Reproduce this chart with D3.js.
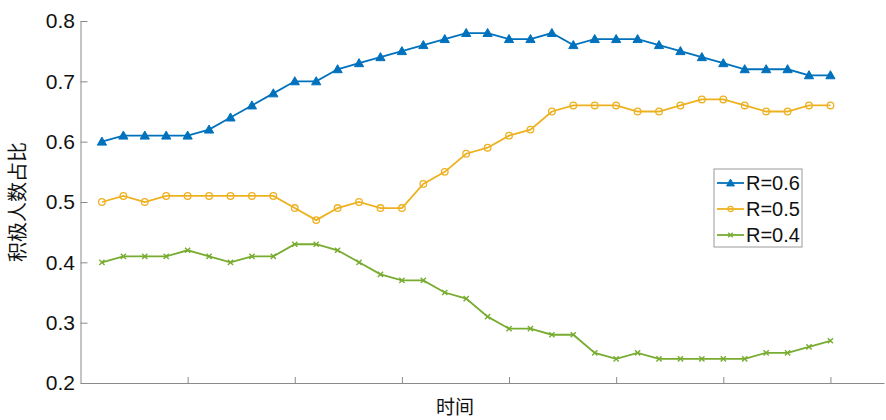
<!DOCTYPE html>
<html>
<head>
<meta charset="utf-8">
<script src="https://cdn.jsdelivr.net/npm/d3@7"></script>
<style>
  html, body { margin: 0; padding: 0; background: #fff; }
  svg { display: block; }
  text { font-family: "Liberation Sans", Arial, sans-serif; fill: #111; }
  .cjk { font-family: "Noto Sans CJK SC", sans-serif; }
</style>
</head>
<body>
<svg id="chart" width="886" height="420"></svg>
<script>
// Time steps 1..35
const steps = d3.range(1, 36);
const r06 = [0.60,0.61,0.61,0.61,0.61,0.62,0.64,0.66,0.68,0.70,0.70,0.72,0.73,0.74,0.75,0.76,0.77,0.78,0.78,0.77,0.77,0.78,0.76,0.77,0.77,0.77,0.76,0.75,0.74,0.73,0.72,0.72,0.72,0.71,0.71];
const r05 = [0.50,0.51,0.50,0.51,0.51,0.51,0.51,0.51,0.51,0.49,0.47,0.49,0.50,0.49,0.49,0.53,0.55,0.58,0.59,0.61,0.62,0.65,0.66,0.66,0.66,0.65,0.65,0.66,0.67,0.67,0.66,0.65,0.65,0.66,0.66];
const r04 = [0.40,0.41,0.41,0.41,0.42,0.41,0.40,0.41,0.41,0.43,0.43,0.42,0.40,0.38,0.37,0.37,0.35,0.34,0.31,0.29,0.29,0.28,0.28,0.25,0.24,0.25,0.24,0.24,0.24,0.24,0.24,0.25,0.25,0.26,0.27];
const seriesNames = ["R=0.6", "R=0.5", "R=0.4"];
const yTicks = [0.2, 0.3, 0.4, 0.5, 0.6, 0.7, 0.8];
const xTicks = [5, 10, 15, 20, 25, 30, 35];
const yLabel = "积极人数占比";
const xLabel = "时间";

const series = [
  { name: seriesNames[0], values: r06, color: "#0072BD", marker: "triangle" },
  { name: seriesNames[1], values: r05, color: "#EDB120", marker: "circle" },
  { name: seriesNames[2], values: r04, color: "#77AC30", marker: "cross" }
];

const svg = d3.select("#chart");
const plotLeft = 80.5, plotRight = 884, plotTop = 21, plotBottom = 383;

const x = d3.scaleLinear().domain([0, 37.5]).range([plotLeft, plotRight]);
const y = d3.scaleLinear().domain([0.2, 0.8]).range([plotBottom, plotTop]);

const axisColor = "#8a8a8a";

// y axis (ticks pointing inward)
const gy = svg.append("g").attr("transform", `translate(${plotLeft},0)`)
  .call(d3.axisLeft(y).tickValues(yTicks).tickFormat(d3.format(".1f")).tickSizeInner(-7).tickSizeOuter(0).tickPadding(5.5));
gy.select(".domain").attr("stroke", axisColor);
gy.selectAll(".tick line").attr("stroke", axisColor);
gy.selectAll(".tick text").attr("font-size", 21).attr("fill", "#111")
  .attr("font-family", "'Liberation Sans', Arial, sans-serif");

// x axis (unlabelled ticks pointing inward)
const gx = svg.append("g").attr("transform", `translate(0,${plotBottom})`)
  .call(d3.axisBottom(x).tickValues(xTicks).tickFormat("").tickSizeInner(-6).tickSizeOuter(0));
gx.select(".domain").attr("stroke", axisColor);
gx.selectAll(".tick line").attr("stroke", axisColor);

// axis titles
svg.append("text").attr("class", "cjk")
  .attr("transform", `translate(25,${(plotTop + plotBottom) / 2}) rotate(-90)`)
  .attr("text-anchor", "middle").attr("font-size", 20).text(yLabel);
svg.append("text").attr("class", "cjk")
  .attr("x", 455).attr("y", 414)
  .attr("text-anchor", "middle").attr("font-size", 19).text(xLabel);

const line = d3.line().x((d, i) => x(steps[i])).y(d => y(d));

function drawMarker(g, type, color, cx, cy, scale) {
  const s = scale || 1;
  if (type === "triangle") {
    const h = 4.6 * s;
    g.append("path")
      .attr("d", `M${cx},${cy - h} L${cx + h},${cy + h * 0.75} L${cx - h},${cy + h * 0.75} Z`)
      .attr("fill", color).attr("stroke", color).attr("stroke-width", 1);
  } else if (type === "circle") {
    g.append("circle").attr("cx", cx).attr("cy", cy).attr("r", 3.3 * s)
      .attr("fill", "none").attr("stroke", color).attr("stroke-width", 1.3);
  } else {
    const h = 2.6 * s;
    g.append("path")
      .attr("d", `M${cx - h},${cy - h} L${cx + h},${cy + h} M${cx - h},${cy + h} L${cx + h},${cy - h}`)
      .attr("stroke", color).attr("stroke-width", 1.4).attr("fill", "none");
  }
}

series.forEach(s => {
  svg.append("path").datum(s.values)
    .attr("d", line).attr("fill", "none")
    .attr("stroke", s.color).attr("stroke-width", 1.8);
  const gm = svg.append("g");
  s.values.forEach((v, i) => drawMarker(gm, s.marker, s.color, x(steps[i]), y(v)));
});

// legend
const lg = svg.append("g").attr("transform", "translate(714,169)");
lg.append("rect").attr("x", 0).attr("y", 0).attr("width", 88).attr("height", 78)
  .attr("fill", "#fff").attr("stroke", "#9a9a9a").attr("stroke-width", 1);
series.forEach((s, i) => {
  const cy = 14 + i * 26;
  lg.append("line").attr("x1", 3).attr("x2", 30).attr("y1", cy).attr("y2", cy)
    .attr("stroke", s.color).attr("stroke-width", 1.8);
  drawMarker(lg, s.marker, s.color, 16.5, cy, s.marker === "circle" ? 0.8 : 0.85);
  lg.append("text").attr("x", 32).attr("y", cy + 7).attr("font-size", 20).text(s.name);
});
</script>
</body>
</html>
